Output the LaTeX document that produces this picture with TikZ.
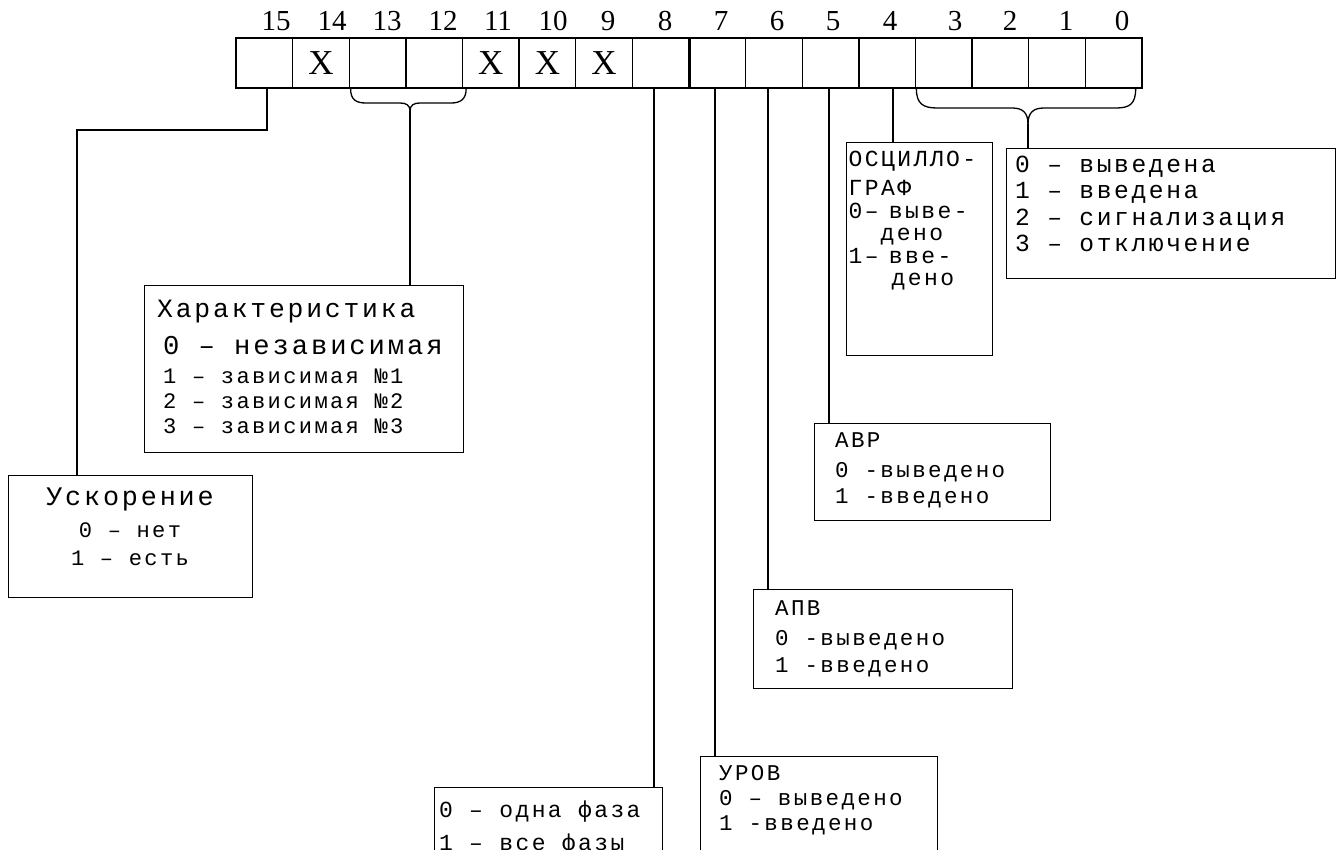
\documentclass[tikz,border=0pt]{standalone}
\usepackage{fontspec}
\setmainfont{Liberation Serif}
\newfontfamily\mono[LetterSpace=10.6]{Liberation Mono}
\newcommand{\fs}[1]{\fontsize{#1}{#1}\selectfont}
\begin{document}
\begin{tikzpicture}[x=1pt,y=-1pt,
  cell/.style={draw, line width=1.3pt, minimum width=56.625pt, minimum height=50pt, inner sep=0pt, font=\fs{35}},
  bitnum/.style={anchor=base, inner sep=0pt, font=\fs{29}},
  infobox/.style={draw, line width=1.3pt, anchor=north west, inner sep=0pt},
  txt/.style={anchor=base west, inner sep=0pt},
  ctxt/.style={anchor=base, inner sep=0pt},
  wire/.style={line width=1.3pt}]
\useasboundingbox (0,0) rectangle (1343,849);
\clip (0,0) rectangle (1343,849);
% bit cells
\foreach \b/\t in {15/,14/X,13/,12/,11/X,10/X,9/X,8/,7/,6/,5/,4/,3/,2/,1/,0/}{
  \node[cell] (c\b) at ({236+56.625*(15-\b)+28.3125},63) {\t};
}
\draw[line width=3.3pt] (c8.north east) -- (c8.south east);
% bit numbers
\foreach \b/\x in {15/276,14/332,13/387,12/443,11/498,10/553,9/608,8/665,7/721,6/777,5/833,4/890,3/955,2/1010,1/1066,0/1122}{
  \node[bitnum] (n\b) at (\x,30) {\b};
}
% info boxes
\node[infobox, minimum width=329pt, minimum height=130pt] (rb) at (1006,148) {};
\node[infobox, minimum width=146pt, minimum height=213pt] (osc) at (846,142) {};
\node[infobox, minimum width=319pt, minimum height=167pt] (har) at (144,285) {};
\node[infobox, minimum width=244pt, minimum height=122pt] (usk) at (8,475) {};
\node[infobox, minimum width=236pt, minimum height=97pt] (avr) at (814,423) {};
\node[infobox, minimum width=259pt, minimum height=99pt] (apv) at (753,589) {};
\node[infobox, minimum width=237pt, minimum height=150pt] (urov) at (700,756) {};
\node[infobox, minimum width=228pt, minimum height=120pt] (faz) at (434,787) {};
% texts: bits 3-0
\begin{scope}[every node/.append style={font=\mono\fs{24.6}}]
\node[txt] (rb1) at (1015,172) {0 – выведена};
\node[txt] (rb2) at (1015,198.5) {1 – введена};
\node[txt] (rb3) at (1015,225) {2 – сигнализация};
\node[txt] (rb4) at (1015,251.5) {3 – отключение};
\end{scope}
% oscillograph
\begin{scope}[every node/.append style={font=\mono\fs{23}}]
\node[txt] (os1) at (848.5,166) {ОСЦИЛЛО-};
\node[txt] (os2) at (848.5,195) {ГРАФ};
\node[txt] (os3) at (848.5,218) {0–\kern-6pt{} выве-};
\node[txt] (os4) at (880.5,240) {дено};
\node[txt] (os5) at (848.5,263) {1–\kern-6pt{} вве-};
\node[txt] (os6) at (891.5,285) {дено};
\end{scope}
% characteristic
\node[txt, font=\mono\fs{26.4}] (h1) at (157,317) {Характеристика};
\node[txt, font=\mono\fs{27.2}] (h2) at (163,354) {0 – независимая};
\node[txt, font=\mono\fs{22.1}] (h3) at (163,383) {1 – зависимая №1};
\node[txt, font=\mono\fs{22.1}] (h4) at (163,408) {2 – зависимая №2};
\node[txt, font=\mono\fs{22.1}] (h5) at (163,433) {3 – зависимая №3};
% acceleration
\node[ctxt, font=\mono\fs{26.8}] (u1) at (130,505) {Ускорение};
\node[ctxt, font=\mono\fs{22.1}] (u2) at (130,537) {0 – нет};
\node[ctxt, font=\mono\fs{22.1}] (u3) at (130,565) {1 – есть};
% AVR / APV / UROV
\begin{scope}[every node/.append style={font=\mono\fs{22.5}}]
\node[txt] (a1) at (835,447) {АВР};
\node[txt] (a2) at (835,477) {0 -выведено};
\node[txt] (a3) at (835,503) {1 -введено};
\node[txt] (p1) at (775,615) {АПВ};
\node[txt] (p2) at (775,645) {0 -выведено};
\node[txt] (p3) at (775,672) {1 -введено};
\node[txt] (r1) at (719,780) {УРОВ};
\node[txt] (r2) at (719,805) {0 – выведено};
\node[txt] (r3) at (719,830) {1 -введено};
\end{scope}
% phases
\node[txt, font=\mono\fs{23}] (f1) at (439,817) {0 – одна фаза};
\node[txt, font=\mono\fs{23}] (f2) at (439,850.5) {1 – все фазы};
% connectors
\coordinate (k15) at (77,130);
\draw[wire] ([xshift=2.7pt]c15.south) |- (k15) -- (k15 |- usk.north);
\draw[wire] ([xshift=-6.7pt]c8.south) -- ([xshift=-6.7pt]c8.south |- faz.north);
\draw[wire] ([xshift=-2.3pt]c7.south) -- ([xshift=-2.3pt]c7.south |- urov.north);
\draw[wire] ([xshift=-5.9pt]c6.south) -- ([xshift=-5.9pt]c6.south |- apv.north);
\draw[wire] ([xshift=-1.6pt]c5.south) -- ([xshift=-1.6pt]c5.south |- avr.north);
\draw[wire] ([xshift=5.8pt]c4.south) -- ([xshift=5.8pt]c4.south |- osc.north);
% brace bits 13-12
\coordinate (bA) at (410,111);
\draw[wire] ([xshift=2pt]c13.south west) .. controls +(0,11) and (356,103) .. (366,103) -- (400,103) .. controls (406,103) and (410,105) .. (bA);
\draw[wire] ([xshift=3pt]c12.south east) .. controls +(0,11) and (460,103) .. (451,103) -- (420,103) .. controls (414,103) and (410,105) .. (bA);
\draw[wire] (bA) -- (bA |- har.north);
% brace bits 3-0
\coordinate (bB) at (1028,124);
\draw[wire] ([xshift=1.5pt]c3.south west) .. controls +(0,15) and (923,108) .. (937,108) -- (1012,108) .. controls (1022,108) and (1028,112) .. (bB);
\draw[wire] ([xshift=-7pt]c0.south east) .. controls +(0,15) and (1130,108) .. (1116,108) -- (1044,108) .. controls (1034,108) and (1028,112) .. (bB);
\draw[wire] (bB) -- (bB |- rb.north);
\end{tikzpicture}
\end{document}
